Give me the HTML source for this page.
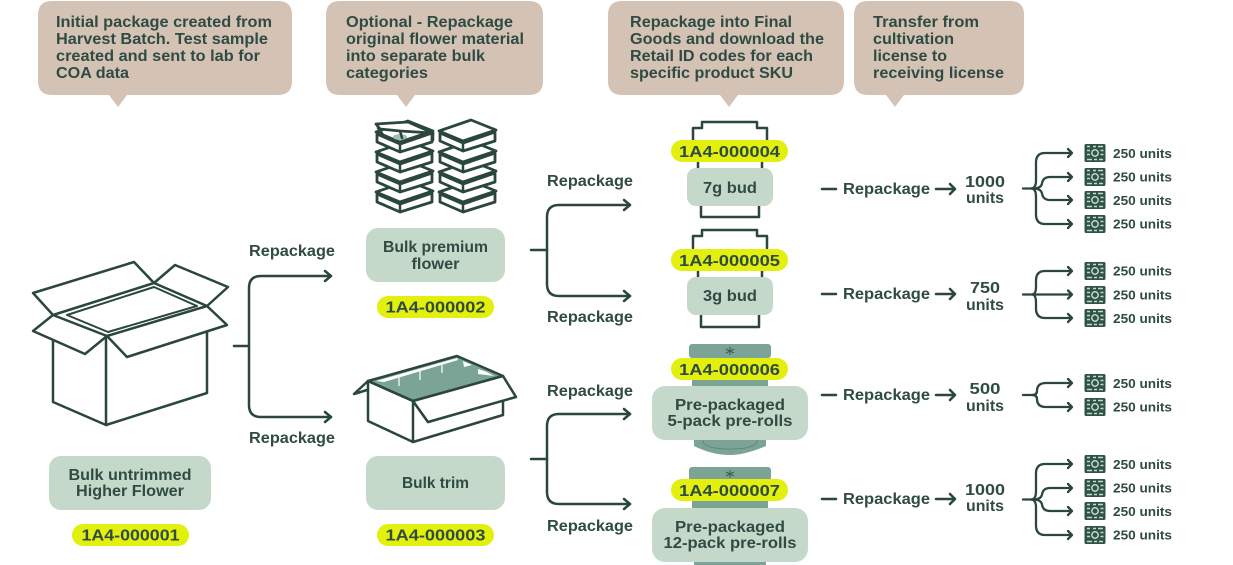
<!DOCTYPE html>
<html>
<head>
<meta charset="utf-8">
<style>
html,body{margin:0;padding:0;background:#fff;width:1233px;height:565px;overflow:hidden}
svg{display:block;filter:blur(0.35px)}
text{font-family:"Liberation Sans",sans-serif;font-weight:700;fill:#2f4b43;stroke:none}
.c{font-size:15.5px}
.m{font-size:15.5px;text-anchor:middle}
.p{font-size:16px;text-anchor:middle;letter-spacing:0}
.u{font-size:13px}
.l{fill:none;stroke:#2b463f;stroke-width:2.5;stroke-linejoin:round;stroke-linecap:round}
.t{fill:none;stroke:#2b463f;stroke-width:2.3;stroke-linejoin:round;stroke-linecap:round}
.w{fill:#fff;stroke:#2b463f;stroke-width:2.8;stroke-linejoin:round}
.b{fill:#d4c2b4}
.g{fill:#c5d9ca}
.y{fill:#e3ef0c}
.v{fill:#7ba496}
</style>
</head>
<body>
<svg width="1233" height="565" viewBox="0 0 1233 565" xmlns="http://www.w3.org/2000/svg">
<defs>
  <g id="ic">
    <rect x="-10.500" y="-9" width="21" height="18" rx="1.500" fill="#2f5347"/>
    <circle r="3.200" fill="none" stroke="#c5d9ca" stroke-width="1.500"/>
    <path d="M-8-6.500h3M-2-6.500h3M3-6.500h5M-8 6.500h5M-1 6.500h3M4 6.500h4M-8-2.500h3M-8 1.500h3M5.500-2.500h3M5.500 1.500h3" stroke="#c5d9ca" stroke-width="1.600" fill="none"/>
  </g>
  <g id="box">
    <path class="w" d="M-23-18V-10L0 0 32-10V-19L0-8Z"/>
    <path class="w" d="M-24-20L8-31 33-21 0-10Z"/>
    <path class="l" d="M0-9V0"/>
  </g>
  <g id="f4" class="t">
    <path d="M-13 0H-3"/>
    <path d="M-5 0Q0 0 0-8V-26Q0-35.500 9-35.500H36M32-39.500L36-35.500 32-31.500"/>
    <path d="M-5 0Q0 0 0 8V26Q0 35.500 9 35.500H36M32 31.500L36 35.500 32 39.500"/>
    <path d="M-3 0Q5 0 6-5Q7-11.500 14-11.500H36M32-15.500L36-11.500 32-7.500"/>
    <path d="M-3 0Q5 0 6 5Q7 11.500 14 11.500H36M32 7.500L36 11.500 32 15.500"/>
  </g>
  <g id="f3" class="t">
    <path d="M-13 0H36M32-4L36 0 32 4"/>
    <path d="M-4 0Q0 0 0-8V-14Q0-23.500 9-23.500H36M32-27.500L36-23.500 32-19.500"/>
    <path d="M-4 0Q0 0 0 8V14Q0 23.500 9 23.500H36M32 19.500L36 23.500 32 27.500"/>
  </g>
  <g id="f2" class="t">
    <path d="M-13 0H-4"/>
    <path d="M-4 0Q1 0 1-4Q1-12 10-12H36M32-16L36-12 32-8"/>
    <path d="M-4 0Q1 0 1 4Q1 12 10 12H36M32 8L36 12 32 16"/>
  </g>
</defs>

<!-- callouts -->
<path class="b" d="M52 1H278Q292 1 292 15V81Q292 95 278 95H127L118 107 109 95H52Q38 95 38 81V15Q38 1 52 1Z"/>
<path class="b" d="M340 1H529Q543 1 543 15V81Q543 95 529 95H415L406 107 397 95H340Q326 95 326 81V15Q326 1 340 1Z"/>
<path class="b" d="M622 1H830Q844 1 844 15V81Q844 95 830 95H738L729 107 720 95H622Q608 95 608 81V15Q608 1 622 1Z"/>
<path class="b" d="M868 1H1010Q1024 1 1024 15V81Q1024 95 1010 95H904L895 107 886 95H868Q854 95 854 81V15Q854 1 868 1Z"/>

<g class="c">
<text x="56" y="27" textLength="216" lengthAdjust="spacingAndGlyphs" class="c">Initial package created from</text>
<text x="56" y="44" textLength="212" lengthAdjust="spacingAndGlyphs" class="c">Harvest Batch. Test sample</text>
<text x="56" y="61" textLength="204" lengthAdjust="spacingAndGlyphs" class="c">created and sent to lab for</text>
<text x="56" y="78" textLength="73" lengthAdjust="spacingAndGlyphs" class="c">COA data</text>
<text x="346" y="27" textLength="167" lengthAdjust="spacingAndGlyphs" class="c">Optional - Repackage</text>
<text x="346" y="44" textLength="178" lengthAdjust="spacingAndGlyphs" class="c">original flower material</text>
<text x="346" y="61" textLength="139" lengthAdjust="spacingAndGlyphs" class="c">into separate bulk</text>
<text x="346" y="78" textLength="82" lengthAdjust="spacingAndGlyphs" class="c">categories</text>
<text x="630" y="27" textLength="162" lengthAdjust="spacingAndGlyphs" class="c">Repackage into Final</text>
<text x="630" y="44" textLength="194" lengthAdjust="spacingAndGlyphs" class="c">Goods and download the</text>
<text x="630" y="61" textLength="183" lengthAdjust="spacingAndGlyphs" class="c">Retail ID codes for each</text>
<text x="630" y="78" textLength="163" lengthAdjust="spacingAndGlyphs" class="c">specific product SKU</text>
<text x="873" y="27" textLength="106" lengthAdjust="spacingAndGlyphs" class="c">Transfer from</text>
<text x="873" y="44" textLength="81" lengthAdjust="spacingAndGlyphs" class="c">cultivation</text>
<text x="873" y="61" textLength="74" lengthAdjust="spacingAndGlyphs" class="c">license to</text>
<text x="873" y="78" textLength="131" lengthAdjust="spacingAndGlyphs" class="c">receiving license</text>
</g>

<!-- big box -->
<g class="l">
  <path d="M53 340V402L106 425 207 393V332"/>
  <path d="M106 336V425"/>
  <path d="M53 315L33 293 134 262 154 283"/>
  <path d="M154 283L175 265 228 287 207 306"/>
  <path d="M53 315L154 283 207 306 107 336Z"/>
  <path d="M67 315L154 287 197 306 108 332Z" stroke-width="2"/>
  <path d="M53 315L33 331 85 354 107 336"/>
  <path d="M107 336L127 357 227 325 207 306"/>
</g>

<!-- connector 1 -->
<g class="l">
  <path d="M234 346H249"/>
  <path d="M331 276H261Q249 276 249 288V405Q249 417 261 417H331"/>
  <path d="M325 271L331 276 325 281M325 412L331 417 325 422"/>
</g>
<text x="292" y="256" class="m" textLength="86" lengthAdjust="spacingAndGlyphs">Repackage</text>
<text x="292" y="443" class="m" textLength="86" lengthAdjust="spacingAndGlyphs">Repackage</text>

<!-- stacks -->
<use href="#box" x="400" y="212"/><use href="#box" x="400" y="192"/><use href="#box" x="400" y="172"/><use href="#box" x="400" y="152"/>
<ellipse cx="400" cy="137" rx="7" ry="3" fill="#9fc0b2"/>
<path class="w" d="M376 124L408 122 433 133 400 131 380 129Z"/>
<path class="l" d="M378 128L384 136M400 131L402 138M433 133V140"/>
<use href="#box" x="463" y="212"/><use href="#box" x="463" y="192"/><use href="#box" x="463" y="172"/><use href="#box" x="463" y="151"/>

<!-- Bulk premium -->
<rect class="g" x="366" y="228" width="139" height="54" rx="12"/>
<text x="435.500" y="252" class="m" textLength="105" lengthAdjust="spacingAndGlyphs">Bulk premium</text>
<text x="435.500" y="269" class="m" textLength="48" lengthAdjust="spacingAndGlyphs">flower</text>
<rect class="y" x="377" y="296" width="117" height="22" rx="11"/>
<text x="435.500" y="312.500" class="p" textLength="100" lengthAdjust="spacingAndGlyphs">1A4-000002</text>

<!-- trim box -->
<path d="M368 381L457 356 503 376 413 401Z" fill="#7ba496"/>
<path d="M376 381L457 358 458 360 384 382Z" fill="#fff"/>
<path d="M399 376V386M420 370V380M442 364V373" stroke="#eef4ef" stroke-width="1.400"/>
<path d="M463 361L472 365 464 367Z M478 369V374L494 376 487 372Z" fill="#fff"/>
<g class="l">
  <path fill="#fff" d="M368 381L368 421 413 442 503 415V400L428 422 413 401Z"/>
  <path d="M368 381L457 356 503 376 413 401Z"/>
  <path d="M413 401V442"/>
  <path fill="#fff" d="M413 401L428 422 516 397 503 376Z"/>
  <path d="M368 381L354 394 367 390"/>
</g>

<!-- Bulk trim -->
<rect class="g" x="366" y="456" width="139" height="54" rx="12"/>
<text x="435.500" y="488" class="m" textLength="67" lengthAdjust="spacingAndGlyphs">Bulk trim</text>
<rect class="y" x="377" y="524" width="117" height="22" rx="11"/>
<text x="435.500" y="540.500" class="p" textLength="100" lengthAdjust="spacingAndGlyphs">1A4-000003</text>

<!-- Bulk untrimmed -->
<rect class="g" x="49" y="456" width="162" height="54" rx="12"/>
<text x="130" y="480" class="m" textLength="123" lengthAdjust="spacingAndGlyphs">Bulk untrimmed</text>
<text x="130" y="496" class="m" textLength="108" lengthAdjust="spacingAndGlyphs">Higher Flower</text>
<rect class="y" x="72" y="524" width="117" height="22" rx="11"/>
<text x="130.500" y="540.500" class="p" textLength="98" lengthAdjust="spacingAndGlyphs">1A4-000001</text>

<!-- connectors 2,3 -->
<g class="l">
  <path d="M531 250H547"/>
  <path d="M630 205H559Q547 205 547 217V284Q547 296 559 296H630"/>
  <path d="M624 200L630 205 624 210M624 291L630 296 624 301"/>
  <path d="M531 459H547"/>
  <path d="M630 414H559Q547 414 547 426V492Q547 504 559 504H630"/>
  <path d="M624 409L630 414 624 419M624 499L630 504 624 509"/>
</g>
<text x="590" y="186" class="m" textLength="86" lengthAdjust="spacingAndGlyphs">Repackage</text>
<text x="590" y="322" class="m" textLength="86" lengthAdjust="spacingAndGlyphs">Repackage</text>
<text x="590" y="396" class="m" textLength="86" lengthAdjust="spacingAndGlyphs">Repackage</text>
<text x="590" y="531" class="m" textLength="86" lengthAdjust="spacingAndGlyphs">Repackage</text>

<!-- cup 1 -->
<g class="l">
  <path d="M693 141V128H702V122H757V128H767V141"/>
  <path d="M698 161V169M762 161V169"/>
  <path d="M701 206V217H759V206"/>
</g>
<rect class="y" x="671" y="140" width="117" height="22" rx="11"/>
<text x="729.500" y="157" class="p" textLength="101" lengthAdjust="spacingAndGlyphs">1A4-000004</text>
<rect class="g" x="687" y="168" width="86" height="38" rx="9"/>
<text x="730" y="193" class="m" textLength="54" lengthAdjust="spacingAndGlyphs">7g bud</text>

<!-- cup 2 -->
<g class="l">
  <path d="M693 248V236H702V230H757V236H767V248"/>
  <path d="M698 270V278M762 270V278"/>
  <path d="M701 314V327H759V314"/>
</g>
<rect class="y" x="671" y="249" width="117" height="22" rx="11"/>
<text x="729.500" y="266" class="p" textLength="101" lengthAdjust="spacingAndGlyphs">1A4-000005</text>
<rect class="g" x="687" y="277" width="86" height="38" rx="9"/>
<text x="730" y="301" class="m" textLength="54" lengthAdjust="spacingAndGlyphs">3g bud</text>

<!-- preroll 1 -->
<rect class="v" x="689" y="344" width="82" height="14" rx="3"/>
<path d="M730 347V355M726 349L734 353M734 349L726 353" stroke="#3c5a50" stroke-width="1"/>
<rect class="v" x="692" y="378" width="76" height="10"/>
<path class="v" d="M694 438H766V446Q745 455 730 455Q712 455 694 446Z"/>
<path d="M703 440V442Q706 449 730 449Q754 449 757 442V440" fill="none" stroke="#5f8a7c" stroke-width="1"/>
<rect class="y" x="671" y="358" width="117" height="22" rx="11"/>
<text x="729.500" y="375" class="p" textLength="101" lengthAdjust="spacingAndGlyphs">1A4-000006</text>
<rect class="g" x="652" y="386" width="156" height="54" rx="13"/>
<text x="730" y="410" class="m" textLength="110" lengthAdjust="spacingAndGlyphs">Pre-packaged</text>
<text x="730" y="426" class="m" textLength="125" lengthAdjust="spacingAndGlyphs">5-pack pre-rolls</text>

<!-- preroll 2 -->
<rect class="v" x="689" y="467" width="82" height="14" rx="3"/>
<path d="M730 470V478M726 472L734 476M734 472L726 476" stroke="#3c5a50" stroke-width="1"/>
<rect class="v" x="692" y="499" width="76" height="11"/>
<rect class="v" x="694" y="560" width="72" height="5"/>
<rect class="y" x="671" y="479" width="117" height="22" rx="11"/>
<text x="729.500" y="496" class="p" textLength="101" lengthAdjust="spacingAndGlyphs">1A4-000007</text>
<rect class="g" x="652" y="508" width="156" height="54" rx="13"/>
<text x="730" y="532" class="m" textLength="110" lengthAdjust="spacingAndGlyphs">Pre-packaged</text>
<text x="730" y="548" class="m" textLength="133" lengthAdjust="spacingAndGlyphs">12-pack pre-rolls</text>

<!-- repackage rows -->
<g class="l">
  <path d="M822 189H836M936 189H955M950 184L955 189 950 194"/>
  <path d="M822 294H836M936 294H955M950 289L955 294 950 299"/>
  <path d="M822 395H836M936 395H955M950 390L955 395 950 400"/>
  <path d="M822 499H836M936 499H955M950 494L955 499 950 504"/>
</g>
<text x="886.500" y="194" class="m" textLength="87" lengthAdjust="spacingAndGlyphs">Repackage</text>
<text x="886.500" y="299" class="m" textLength="87" lengthAdjust="spacingAndGlyphs">Repackage</text>
<text x="886.500" y="400" class="m" textLength="87" lengthAdjust="spacingAndGlyphs">Repackage</text>
<text x="886.500" y="504" class="m" textLength="87" lengthAdjust="spacingAndGlyphs">Repackage</text>

<text x="985" y="187" class="m" textLength="40" lengthAdjust="spacingAndGlyphs">1000</text>
<text x="985" y="203" class="m" textLength="38" lengthAdjust="spacingAndGlyphs">units</text>
<text x="985" y="293" class="m" textLength="30" lengthAdjust="spacingAndGlyphs">750</text>
<text x="985" y="310" class="m" textLength="38" lengthAdjust="spacingAndGlyphs">units</text>
<text x="985" y="394" class="m" textLength="31" lengthAdjust="spacingAndGlyphs">500</text>
<text x="985" y="411" class="m" textLength="38" lengthAdjust="spacingAndGlyphs">units</text>
<text x="985" y="495" class="m" textLength="40" lengthAdjust="spacingAndGlyphs">1000</text>
<text x="985" y="511" class="m" textLength="38" lengthAdjust="spacingAndGlyphs">units</text>

<!-- fans -->
<use href="#f4" x="1036" y="188.500"/>
<use href="#f3" x="1036" y="294.500"/>
<use href="#f2" x="1036" y="395"/>
<use href="#f4" x="1036" y="499.500"/>

<!-- units -->
<use href="#ic" x="1095" y="153"/><text x="1113" y="158" class="u" textLength="59" lengthAdjust="spacingAndGlyphs">250 units</text>
<use href="#ic" x="1095" y="177"/><text x="1113" y="181.500" class="u" textLength="59" lengthAdjust="spacingAndGlyphs">250 units</text>
<use href="#ic" x="1095" y="200"/><text x="1113" y="205" class="u" textLength="59" lengthAdjust="spacingAndGlyphs">250 units</text>
<use href="#ic" x="1095" y="224"/><text x="1113" y="228.500" class="u" textLength="59" lengthAdjust="spacingAndGlyphs">250 units</text>

<use href="#ic" x="1095" y="271"/><text x="1113" y="275.500" class="u" textLength="59" lengthAdjust="spacingAndGlyphs">250 units</text>
<use href="#ic" x="1095" y="295"/><text x="1113" y="299.500" class="u" textLength="59" lengthAdjust="spacingAndGlyphs">250 units</text>
<use href="#ic" x="1095" y="318"/><text x="1113" y="323" class="u" textLength="59" lengthAdjust="spacingAndGlyphs">250 units</text>

<use href="#ic" x="1095" y="383"/><text x="1113" y="388" class="u" textLength="59" lengthAdjust="spacingAndGlyphs">250 units</text>
<use href="#ic" x="1095" y="407"/><text x="1113" y="411.500" class="u" textLength="59" lengthAdjust="spacingAndGlyphs">250 units</text>

<use href="#ic" x="1095" y="464"/><text x="1113" y="469" class="u" textLength="59" lengthAdjust="spacingAndGlyphs">250 units</text>
<use href="#ic" x="1095" y="488"/><text x="1113" y="492.500" class="u" textLength="59" lengthAdjust="spacingAndGlyphs">250 units</text>
<use href="#ic" x="1095" y="511"/><text x="1113" y="516" class="u" textLength="59" lengthAdjust="spacingAndGlyphs">250 units</text>
<use href="#ic" x="1095" y="535"/><text x="1113" y="539.500" class="u" textLength="59" lengthAdjust="spacingAndGlyphs">250 units</text>
</svg>
</body>
</html>
